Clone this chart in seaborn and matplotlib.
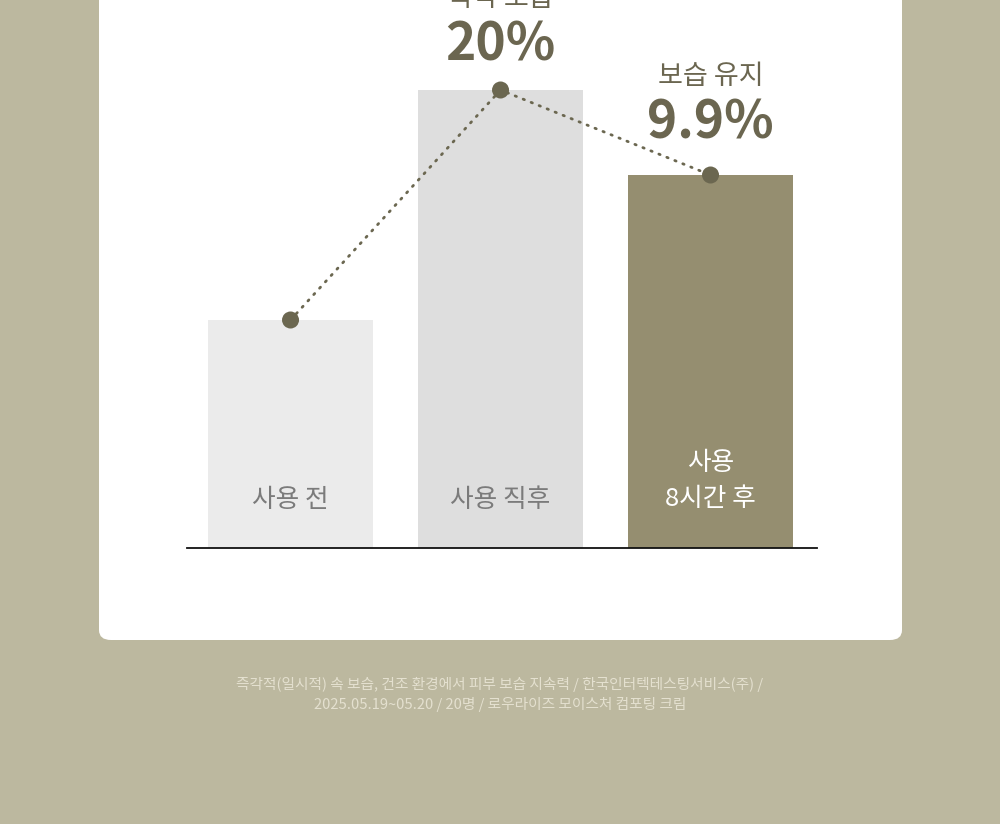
import matplotlib
matplotlib.use("Agg")
import matplotlib.pyplot as plt
from matplotlib.patches import FancyBboxPatch
import seaborn as sns
import pandas as pd

# ---- data ----
categories = ["사용 전", "사용 직후", "사용\n8시간 후"]
values = [228, 458, 373]          # relative moisture level (illustrative)
bar_colors = ["#ebebeb", "#dedede", "#958e70"]
label_colors = ["#7b7b7b", "#7b7b7b", "#ffffff"]
callout_titles = ["즉각 보습", "보습 유지"]
callout_values = ["20%", "9.9%"]
callout_index = [1, 2]
footer_lines = [
    "즉각적(일시적) 속 보습, 건조 환경에서 피부 보습 지속력 / 한국인터텍테스팅서비스(주) /",
    "2025.05.19~05.20 / 20명 / 로우라이즈 모이스처 컴포팅 크림",
]

sns.set_theme(style="white")
plt.rcParams["font.family"] = ["Noto Sans CJK KR", "DejaVu Sans"]

W, H = 1000, 824
fig = plt.figure(figsize=(W / 100, H / 100), dpi=100)
fig.patch.set_facecolor("#bcb89f")

# white card
card = FancyBboxPatch((99 / W, (H - 640) / H), (902 - 99) / W, 1.2,
                      boxstyle="round,pad=0,rounding_size=0.012",
                      transform=fig.transFigure, facecolor="white",
                      edgecolor="none", zorder=-5)
fig.patches.append(card)

# axes: left 187, right 817, bottom 548, top 0 (pixels)
ax = fig.add_axes([187 / W, (H - 548) / H, (817 - 187) / W, 548 / H])
ax.set_zorder(2)
ax.set_facecolor("none")
ax.patch.set_alpha(0)

df = pd.DataFrame({"cat": categories, "val": values})
sns.barplot(data=df, x="cat", y="val", hue="cat", palette=bar_colors,
            width=165 / 210, legend=False, ax=ax, saturation=1)
for p in ax.patches:
    p.set_edgecolor("none")

ax.set_xlim(-0.493, 2.507)
ax.set_ylim(0, 548)

# dotted line with markers
xs = list(range(len(values)))
ax.plot(xs, values, linestyle=(0, (0.5, 2.6)), color="#6b6750", lw=2.0,
        dash_capstyle="round", zorder=3)
ax.scatter(xs, values, s=150, color="#6b6750", zorder=4, edgecolor="none")

# bar labels
label_y = [500, 500, 481]
for i, (c, col) in enumerate(zip(categories, label_colors)):
    ax.text(i, 548 - label_y[i], c, ha="center", va="center", fontsize=18.5,
            color=col, linespacing=1.5)

# callouts
title_y = {1: -2, 2: 76}
value_y = {1: 45, 2: 123}
for t, v, i in zip(callout_titles, callout_values, callout_index):
    ax.text(i, 548 - title_y[i], t, ha="center", va="center", fontsize=19.5,
            color="#6b6650", clip_on=False)
    ax.text(i, 548 - value_y[i], v, ha="center", va="center", fontsize=37,
            fontweight="bold", color="#6b6650", clip_on=False)

# spines
for s in ["top", "right", "left"]:
    ax.spines[s].set_visible(False)
ax.spines["bottom"].set_color("#111111")
ax.spines["bottom"].set_linewidth(1.3)
ax.set_xticks([])
ax.set_yticks([])
ax.set_xlabel("")
ax.set_ylabel("")

# footer
for j, line in enumerate(footer_lines):
    fig.text(0.5, (H - (684 + j * 21)) / H, line, ha="center", va="center",
             fontsize=10.6, color="#e4e0cf")

fig.savefig("out.png", dpi=100, facecolor=fig.get_facecolor())
